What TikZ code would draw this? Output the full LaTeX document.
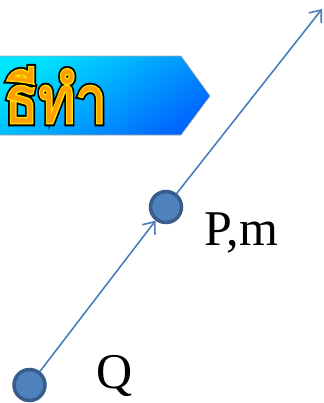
\documentclass[tikz,border=0pt]{standalone}
\usepackage{fontspec}
\setmainfont{Liberation Serif}
\newfontfamily\thaifont[Script=Thai]{Loma}
\newfontfamily\thaiout[Script=Thai,FakeBold=10]{Loma}
\newfontfamily\thaimid[Script=Thai,FakeBold=4]{Loma}
\usetikzlibrary{arrows.meta}
\definecolor{linec}{HTML}{4A7EBB}
\definecolor{dotfill}{HTML}{4F81BD}
\definecolor{dotdraw}{HTML}{385D8A}
\definecolor{bancyan}{HTML}{00E4FF}
\definecolor{banblue}{HTML}{0068FF}
\definecolor{txtorange}{HTML}{FFA000}
\definecolor{txtyellow}{HTML}{FFE000}
\tikzset{
  dot/.style={circle, fill=dotfill, draw=dotdraw, line width=3.5bp, minimum size=31bp, inner sep=0pt},
  arr/.style={draw=linec, line width=1.6bp, -{Straight Barb[length=10bp,width=16bp,line width=1.6bp]}},
  lbl/.style={anchor=base west, inner sep=0pt, font=\fontsize{50bp}{50bp}\selectfont},
  thai/.style={anchor=base west, inner sep=0pt, xscale=0.85}
}
\begin{document}
\begin{tikzpicture}[x=1bp,y=-1bp]
\useasboundingbox (0,0) rectangle (324,403);
% banner
\shade[top color=bancyan, bottom color=banblue, shading angle=35, draw=gray!70, line width=0.6bp]
  (-2,56) -- (181,56) -- (210,96) -- (181,135) -- (-2,135) -- cycle;
% banner text: black outline, yellow rim, orange fill
\node[thai, text=black, font=\thaiout\fontsize{66bp}{66bp}\selectfont] (tb) at (4,123) {ธีทำ};
\node[thai, text=txtyellow, font=\thaimid\fontsize{66bp}{66bp}\selectfont] (ty) at (4,123) {ธีทำ};
\node[thai, text=txtorange, font=\thaifont\fontsize{66bp}{66bp}\selectfont] (title) at (4,123) {ธีทำ};
% dots
\node[dot] (P) at (166,207) {};
\node[dot] (Q) at (29.5,385) {};
\coordinate (E) at (322,9);
\draw[arr] (Q) -- (P);
\draw[arr] (P) -- (E);
% labels
\node[lbl] (Pl) at (204,245) {P,m};
\node[lbl] (Ql) at (96,388) {Q};
\end{tikzpicture}
\end{document}
